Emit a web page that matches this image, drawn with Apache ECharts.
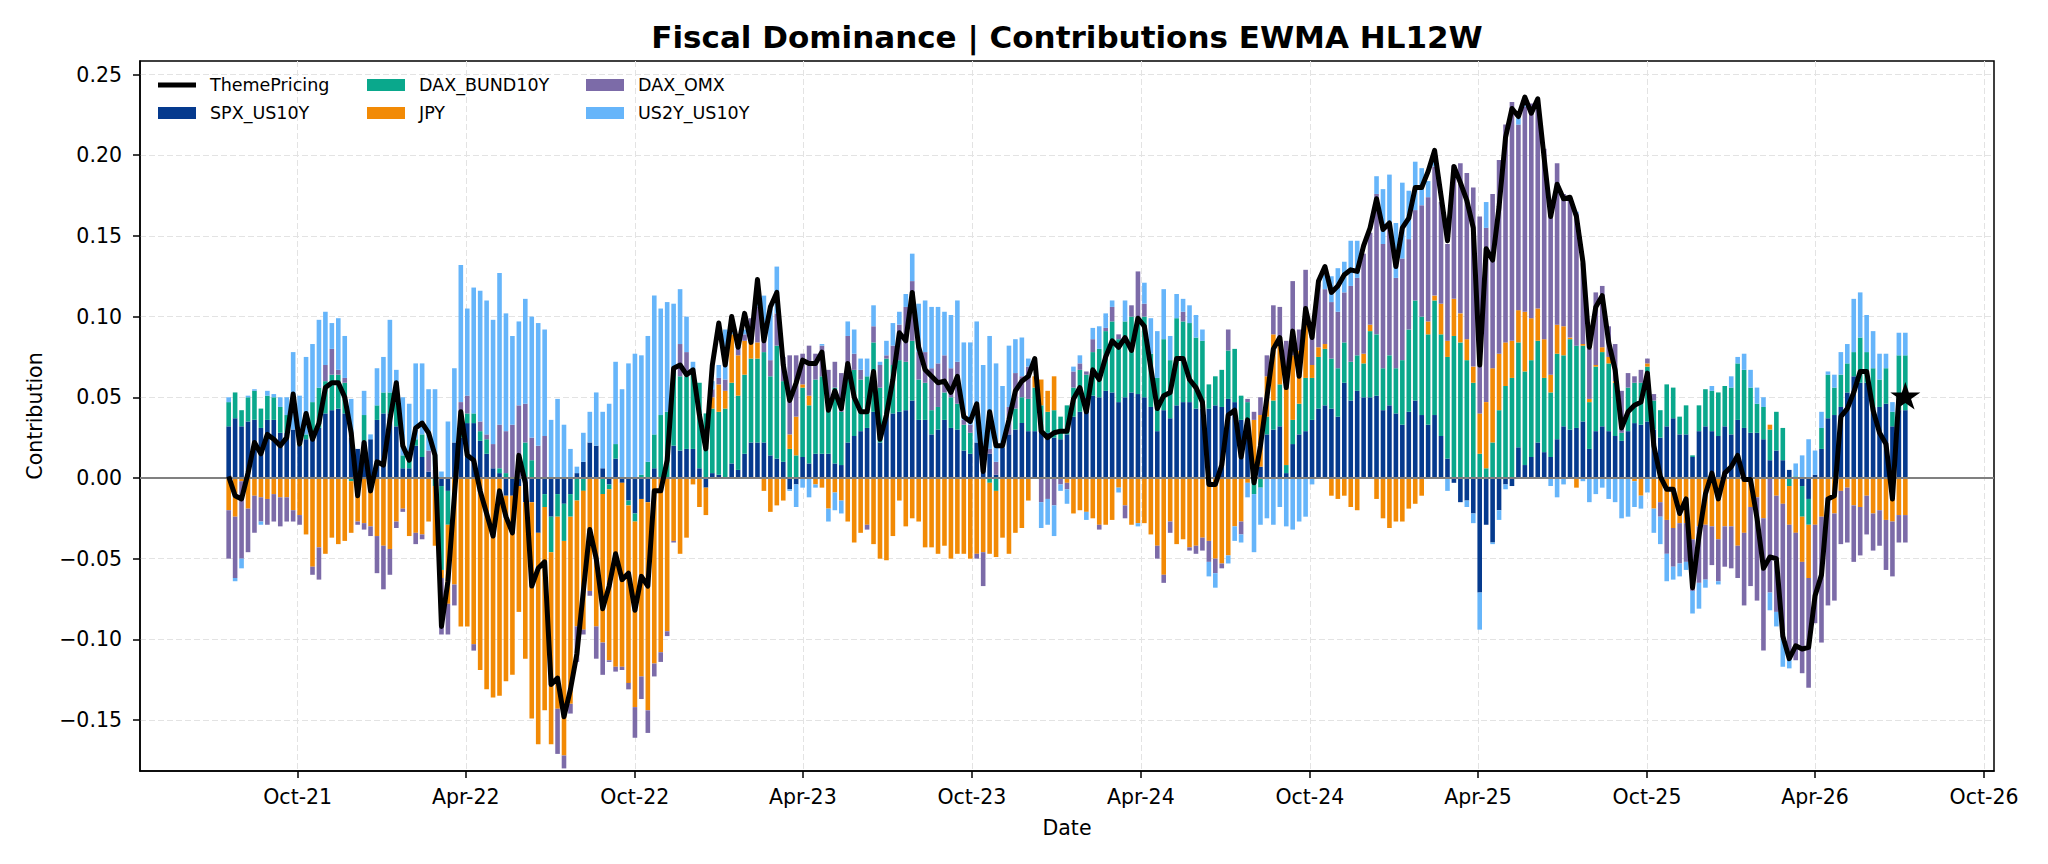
<!DOCTYPE html>
<html>
<head>
<meta charset="utf-8">
<title>Fiscal Dominance | Contributions EWMA HL12W</title>
<script src="https://cdn.jsdelivr.net/npm/echarts@6/dist/echarts.min.js"></script>
<style>
  html, body { margin: 0; padding: 0; background: #fff; }
  #chart { width: 2048px; height: 864px; }
</style>
</head>
<body>
<div id="chart"></div>
<script>
// weekly observations (Fridays), first one below
const firstWeek = '2021-07-16';

const themePricing = [
  .001,-.011,-.013,.003,.022,.015,.027,.024,.020,.025,.052,.021,.040,.024,.034,.056,.059,.059,.050,.028,
  -.011,.022,-.008,.010,.008,.036,.059,.020,.011,.031,.034,.028,.014,-.092,-.064,-.011,.041,.014,.011,-.008,
  -.022,-.036,-.008,-.024,-.034,.014,-.003,-.067,-.056,-.052,-.128,-.124,-.148,-.131,-.109,-.070,-.032,-.050,-.081,-.067,
  -.047,-.063,-.059,-.082,-.061,-.067,-.008,-.008,.011,.068,.070,.064,.067,.039,.018,.070,.096,.070,.100,.081,
  .102,.084,.123,.085,.106,.115,.070,.048,.059,.073,.071,.071,.078,.042,.054,.043,.071,.050,.041,.041,
  .066,.024,.039,.061,.090,.085,.115,.081,.067,.063,.059,.060,.053,.063,.038,.035,.046,.004,.041,.020,
  .020,.036,.054,.060,.063,.074,.029,.025,.028,.029,.029,.049,.056,.041,.067,.061,.075,.085,.081,.087,
  .079,.099,.094,.068,.043,.051,.053,.074,.074,.061,.056,.047,-.004,-.004,.008,.039,.042,.013,.036,-.003,
  .020,.050,.080,.087,.056,.091,.063,.105,.087,.122,.131,.115,.119,.126,.129,.128,.144,.155,.173,.154,
  .158,.131,.155,.161,.180,.180,.190,.203,.175,.147,.193,.183,.172,.155,.070,.142,.135,.168,.211,.229,
  .224,.236,.226,.235,.198,.162,.182,.173,.174,.162,.134,.081,.106,.113,.084,.067,.031,.041,.045,.047,
  .065,.020,.001,-.007,-.007,-.022,-.013,-.068,-.036,-.010,.003,-.013,.003,.007,.014,-.001,-.001,-.025,-.056,-.049,
  -.050,-.098,-.112,-.104,-.106,-.105,-.073,-.060,-.013,-.011,.038,.043,.053,.066,.066,.042,.028,.021,-.013,.051,.051
];

const spxUs10y = [
  .032,.037,.032,.035,.036,.031,.036,.036,.028,.028,.030,.020,.024,.024,.031,.040,.042,.043,.040,.025,
  .018,.023,.024,.036,.040,.040,.032,.006,.006,.020,.013,.004,0,-.005,-.008,.022,.025,.034,.034,.023,
  .015,.006,.003,-.011,-.011,-.005,-.015,-.015,-.034,-.010,-.024,-.010,-.016,-.010,.003,.010,.022,.020,.006,-.004,
  .012,-.003,-.014,-.022,-.013,-.015,.006,0,0,.020,.017,.018,.018,.006,-.006,.003,.002,0,.009,.005,
  .015,.022,.022,.022,.014,.012,.010,-.007,-.004,.013,.009,.015,.015,.015,.009,.008,.022,.026,.029,.031,
  .041,.022,.039,.040,.041,.042,.048,.036,.036,.027,.030,.036,.031,.030,.017,.015,.022,.014,.015,.002,
  .019,.027,.030,.034,.029,.029,.029,.028,.025,.024,.027,.038,.041,.050,.051,.050,.054,.053,.047,.050,
  .053,.052,.050,.044,.029,.042,.037,.045,.047,.047,.043,.043,.043,.045,.044,.049,.047,.036,.032,.005,
  .007,.027,.030,.032,.003,.021,.027,.029,.036,.043,.045,.043,.038,.059,.048,.054,.050,.050,.051,.042,
  .045,.040,.033,.041,.048,.039,.033,.039,.026,.012,-.003,-.015,-.014,-.022,-.071,-.029,-.040,-.020,-.004,-.005,
  .019,.008,.013,.022,.016,.013,.024,.032,.030,.031,.035,.018,.029,.032,.029,.026,.023,.029,.034,.033,
  .035,.030,.025,.032,.037,.027,.027,.013,.029,.032,.029,.026,.032,.027,.036,.031,.028,.028,.024,.011,
  .017,.011,.005,0,-.005,-.013,.002,.018,.037,.039,.044,.053,.063,.059,.059,.044,.044,.046,.032,.042,.042
];

const daxBund10y = [
  .015,.016,.010,.015,.018,.012,.015,.014,.016,.011,0,.006,.003,.023,.025,.020,.022,.021,.019,-.002,
  0,.016,0,.009,.013,.013,.015,.008,.006,.004,.014,0,-.005,-.052,-.021,0,.010,.006,.006,.006,
  .009,0,.003,.003,0,0,.022,.011,0,-.008,-.022,-.014,-.023,-.014,-.014,-.008,0,0,-.010,-.003,
  .009,0,-.003,-.005,.002,.010,.021,.039,.041,.047,.046,.045,.047,.053,.040,.040,.039,.043,.050,.046,
  .049,.052,.052,.056,.049,.070,.050,.018,.014,.043,.036,.046,.048,.027,.047,.033,.044,.041,.032,.032,
  .043,.034,.035,.030,.032,.030,.037,.025,.023,.015,.014,.017,.019,.016,.016,.013,0,0,-.003,-.008,
  0,0,.013,.016,.020,.027,.016,.013,.017,.014,.018,.018,.026,.014,.027,.030,.037,.044,.039,.047,
  .047,.048,.050,.033,.033,.044,.036,.054,.050,.049,.044,.042,.015,.018,.023,.030,.033,.015,.015,-.010,
  -.006,.011,.018,.026,.005,.015,.019,.033,.026,.032,.035,.031,.030,.025,.024,.022,.021,.041,.038,.026,
  .031,.028,.040,.051,.062,.061,.056,.071,.063,.063,.088,.084,.073,.059,.015,.006,.022,.042,.057,.062,
  .065,.058,.060,.063,.046,.040,.053,.044,.056,.051,.047,.029,.040,.046,.042,.033,.005,.027,.025,.026,
  .034,.018,.017,.026,.019,.011,.018,.001,.016,.023,.025,.027,.025,.029,.035,.036,.028,.018,.020,.019,
  .024,.020,-.005,.001,-.019,-.016,0,.013,.027,.017,.020,.018,.015,.028,.019,.024,.017,.022,.009,.034,.034
];

const jpy = [
  -.020,-.024,-.002,-.019,-.011,-.012,-.013,-.010,-.012,-.012,-.020,-.023,-.035,-.055,-.043,-.047,-.037,-.041,-.039,-.032,
  -.027,-.028,-.030,-.036,-.042,-.044,-.027,-.019,-.036,-.034,-.035,-.027,-.037,-.005,-.049,-.066,-.092,-.092,-.103,-.119,
  -.131,-.136,-.135,-.115,-.111,-.078,-.097,-.134,-.131,-.126,-.119,-.119,-.133,-.116,-.078,-.086,-.070,-.092,-.092,-.106,
  -.117,-.114,-.110,-.115,-.110,-.129,-.115,-.108,-.095,-.039,-.047,-.037,-.004,-.018,-.017,.007,.017,.011,.030,.025,
  .021,.010,.010,-.008,-.021,-.017,-.014,.009,.024,.002,.006,-.004,-.006,-.019,-.009,-.014,-.027,-.040,-.034,-.029,
  -.041,-.050,-.051,-.036,-.014,-.030,-.025,-.027,-.043,-.043,-.047,-.042,-.050,-.047,-.047,-.050,-.047,-.046,-.044,-.041,
  -.037,-.047,-.034,-.031,-.014,.007,.016,.013,.021,0,-.003,-.022,-.020,-.021,-.025,-.029,-.029,-.026,-.006,-.017,
  -.029,-.028,-.028,-.035,-.042,-.060,-.027,-.041,-.038,-.043,-.042,-.037,-.039,-.050,-.053,-.048,-.030,-.027,-.003,.031,
  .032,.025,.041,.029,.050,.040,.033,.033,.008,.006,.003,-.011,-.013,-.011,-.018,-.020,.006,.004,-.013,-.025,
  -.031,-.027,-.027,-.019,-.016,-.011,.008,.003,.019,.010,.023,.018,.013,.010,.025,.041,.046,.035,.027,.023,
  .020,.037,.026,.020,.024,.011,.018,.018,.001,-.006,.001,.002,.001,.003,.004,.001,0,0,-.002,-.011,
  .002,-.019,-.015,-.026,-.031,-.028,-.028,-.038,-.030,-.029,-.030,-.038,-.030,-.030,-.042,-.034,-.018,-.012,-.025,.003,
  -.011,-.016,-.024,-.034,-.028,-.033,-.029,-.024,-.012,-.022,-.008,-.006,-.017,-.018,-.011,-.022,-.020,-.026,-.027,-.023,-.023
];

const daxOmx = [
  -.030,-.038,-.048,-.027,-.023,-.015,-.016,-.017,-.018,-.015,-.007,-.006,0,-.005,-.020,.010,.016,.003,.003,.003,
  -.002,-.004,-.006,-.023,-.027,-.016,-.004,-.002,0,-.007,-.003,.013,.005,-.035,-.019,-.013,.012,.011,-.004,.006,
  .003,.015,.027,.026,.033,.045,.024,.014,.020,.026,0,-.028,-.008,-.006,-.022,-.003,-.003,-.020,-.020,-.001,
  -.003,-.002,-.004,-.019,-.014,-.014,-.008,-.006,-.003,-.001,.020,.015,0,0,0,.005,.004,.007,0,.007,
  .004,.015,.022,.009,.010,.020,.015,.049,.038,.019,.031,.016,.019,.025,.016,.024,.022,.010,.006,-.003,
  .010,.014,.002,.012,.022,.034,.037,.017,.019,.026,.027,.023,.018,.026,.003,.005,-.003,-.021,.003,.008,
  0,.017,.022,.013,.020,0,-.015,-.013,-.017,-.004,-.004,.010,.004,.002,.008,-.003,.002,.009,.003,-.008,
  .007,.028,.008,0,-.008,-.005,-.007,0,.006,-.002,-.005,-.008,-.013,-.009,-.003,.013,0,-.008,.002,.005,
  .011,.013,.018,.019,.027,.046,.013,.034,.019,.039,.034,.035,.035,.031,.047,.048,.062,.057,.087,.077,
  .082,.056,.063,.056,.056,.069,.077,.080,.063,.060,.083,.093,.103,.111,.122,.108,.108,.120,.135,.148,
  .115,.127,.133,.129,.118,.103,.100,.082,.085,.082,.050,.031,.045,.038,.019,.023,.026,.009,.004,.008,
  .003,.004,-.009,-.021,-.024,-.025,-.024,-.032,-.035,-.034,-.024,-.026,-.025,-.026,-.020,-.045,-.049,-.064,-.082,-.071,
  -.072,-.079,-.080,-.079,-.069,-.068,-.061,-.078,-.067,-.054,-.033,-.034,-.035,-.030,-.024,-.023,-.022,-.031,-.034,-.017,-.017
];

const us2yUs10y = [
  .003,-.002,-.006,.001,.001,-.002,.003,.002,.006,.011,.048,.025,.048,.036,.042,.033,.016,.032,.026,.021,
  0,.015,.003,.023,.022,.045,.020,.036,.034,.047,.044,.038,.050,.004,.035,.046,.085,.054,.078,.081,
  .083,.077,.094,.073,.055,.052,.065,.075,.076,.066,.036,.049,.033,.018,.004,.018,.019,.033,.035,.046,
  .051,.055,.071,.077,.074,.078,.086,.066,.068,.041,.034,.022,.007,0,0,.005,.008,.031,.003,0,
  .003,0,.010,.026,.034,.029,0,-.001,-.014,-.006,-.012,-.002,.001,-.008,-.011,-.008,.009,.015,.007,.011,
  .013,.002,.009,.014,.008,.008,.017,.030,.032,.038,.035,.027,.033,.038,.048,.051,.075,.056,.070,.061,
  .038,.038,.021,.024,.005,0,-.016,-.016,-.019,-.004,-.009,.003,.005,-.005,.007,.014,.009,.004,-.003,.013,
  0,-.002,.013,.022,.029,.031,.015,.015,.008,.011,.014,.007,-.009,-.009,0,-.005,-.009,-.005,-.009,-.036,
  -.023,-.025,-.029,-.018,-.030,-.032,-.027,-.024,-.004,0,.009,.016,.027,.019,.028,.023,0,0,.011,.034,
  .030,.034,.047,.030,.030,.023,.010,.010,0,-.008,0,0,-.004,-.006,-.023,.016,-.001,-.006,-.003,0,
  .004,.002,0,0,0,-.005,-.012,-.004,0,.001,-.002,-.015,-.010,-.006,-.013,-.015,-.025,-.024,-.016,-.008,
  -.009,-.015,-.017,-.017,-.008,-.008,-.005,-.014,-.016,-.005,.003,-.002,0,.007,.004,.010,.011,.010,.006,-.011,
  -.009,-.022,-.009,.008,.014,.024,.015,.010,.002,.008,.014,.012,.033,.028,.023,.023,.016,.009,.006,.014,.014
];

const xTickDates = ['2021-10-01','2022-04-01','2022-10-01','2023-04-01','2023-10-01','2024-04-01',
  '2024-10-01','2025-04-01','2025-10-01','2026-04-01','2026-10-01'];
const yTicks = [-0.15, -0.10, -0.05, 0, 0.05, 0.10, 0.15, 0.20, 0.25];

const MONTHS = ['Jan','Feb','Mar','Apr','May','Jun','Jul','Aug','Sep','Oct','Nov','Dec'];
const DAY = 86400000;
const FONT = 'DejaVu Sans';
const X_MIN = Date.UTC(2021, 3, 13, 6);
const X_MAX = Date.UTC(2026, 9, 11, 18);

const t0 = Date.parse(firstWeek);
const weeks = themePricing.map((_, i) => t0 + i * 7 * DAY);
const pairs = arr => arr.map((v, i) => [weeks[i], v]);

function fmtMonth(v) {
  const d = new Date(v);
  return MONTHS[d.getUTCMonth()] + '-' + String(d.getUTCFullYear()).slice(2);
}

// matplotlib style 5-point star
function starPath() {
  let d = '';
  for (let k = 0; k < 10; k++) {
    const r = k % 2 ? 19.1 : 50;
    const a = (-90 + k * 36) * Math.PI / 180;
    d += (k ? 'L' : 'M') + (50 + r * Math.cos(a)).toFixed(2) + ',' + (50 + r * Math.sin(a)).toFixed(2);
  }
  return 'path://' + d + 'Z';
}

const colors = {
  SPX_US10Y: '#053a8e',
  DAX_BUND10Y: '#0aa88c',
  JPY: '#f28a05',
  DAX_OMX: '#7c6ba8',
  US2Y_US10Y: '#66b5fa'
};

function barSeries(name, arr) {
  return {
    name: name,
    type: 'bar',
    stack: 'contrib',
    barWidth: 4.6,
    itemStyle: { color: colors[name] },
    data: pairs(arr)
  };
}

const legendText = { fontFamily: FONT, fontSize: 17.5, lineHeight: 18, color: '#000', padding: [0, 0, 0, 9] };
function legendBlock(left, items) {
  return {
    orient: 'vertical', left: left, top: 71,
    itemWidth: 38, itemHeight: 12, itemGap: 10,
    selectedMode: false,
    textStyle: legendText,
    data: items
  };
}

const tickX = xTickDates.map(s => Date.parse(s));
const gridLine = { show: true, lineStyle: { color: '#e3e3e3', width: 1, type: [6, 3] } };

const chart = echarts.init(document.getElementById('chart'), null, { renderer: 'svg' });
chart.setOption({
  animation: false,
  backgroundColor: '#fff',
  graphic: [{
    type: 'text', x: 1067, y: 37,
    style: {
      text: 'Fiscal Dominance | Contributions EWMA HL12W',
      font: 'bold 31px "DejaVu Sans"', fill: '#000',
      textAlign: 'center', textVerticalAlign: 'middle'
    }
  }],
  legend: [
    legendBlock(153, [{ name: 'ThemePricing', icon: 'path://M0,0H38V5H0Z' }, { name: 'SPX_US10Y', icon: 'rect' }]),
    legendBlock(362, [{ name: 'DAX_BUND10Y', icon: 'rect' }, { name: 'JPY', icon: 'rect' }]),
    legendBlock(581, [{ name: 'DAX_OMX', icon: 'rect' }, { name: 'US2Y_US10Y', icon: 'rect' }])
  ],
  grid: {
    left: 140, right: 54, top: 61, bottom: 93,
    show: true, borderColor: '#000', borderWidth: 1.5, backgroundColor: 'transparent'
  },
  xAxis: [
    // time axis that carries the data (stacking works here)
    { type: 'time', min: X_MIN, max: X_MAX, show: false },
    // visible axis with the half-year ticks
    {
      type: 'value', position: 'bottom',
      min: X_MIN, max: X_MAX,
      name: 'Date', nameLocation: 'middle', nameGap: 46,
      nameTextStyle: { fontFamily: FONT, fontSize: 20.5, color: '#000' },
      axisLine: { onZero: false, lineStyle: { color: '#000', width: 1.5 } },
      axisTick: { customValues: tickX, length: 7, lineStyle: { color: '#000', width: 1.5 } },
      axisLabel: {
        customValues: tickX, margin: 15,
        fontFamily: FONT, fontSize: 20.5, color: '#000',
        formatter: v => fmtMonth(v)
      },
      splitLine: gridLine
    }
  ],
  yAxis: {
    type: 'value',
    min: -0.1816, max: 0.2584,
    name: 'Contribution', nameLocation: 'middle', nameGap: 95,
    nameTextStyle: { fontFamily: FONT, fontSize: 20.5, color: '#000' },
    axisLine: { show: true, lineStyle: { color: '#000', width: 1.5 } },
    axisTick: { show: true, customValues: yTicks, length: 7, lineStyle: { color: '#000', width: 1.5 } },
    axisLabel: {
      customValues: yTicks, margin: 18,
      fontFamily: FONT, fontSize: 20.5, color: '#000',
      formatter: v => (v < 0 ? '\u2212' : '') + Math.abs(v).toFixed(2)
    },
    splitLine: gridLine
  },
  series: [
    barSeries('SPX_US10Y', spxUs10y),
    barSeries('DAX_BUND10Y', daxBund10y),
    barSeries('JPY', jpy),
    barSeries('DAX_OMX', daxOmx),
    Object.assign(barSeries('US2Y_US10Y', us2yUs10y), {
      markLine: {
        silent: true, symbol: 'none', label: { show: false },
        lineStyle: { color: '#808080', width: 1.8, type: 'solid' },
        data: [{ yAxis: 0 }]
      }
    }),
    {
      name: 'ThemePricing',
      type: 'line',
      z: 5,
      symbol: 'none',
      itemStyle: { color: '#000' },
      lineStyle: { color: '#000', width: 5, join: 'round' },
      data: pairs(themePricing)
    },
    {
      name: 'latest',
      type: 'scatter',
      z: 6,
      symbol: starPath(),
      symbolKeepAspect: true,
      symbolSize: [30, 29],
      itemStyle: { color: '#000', opacity: 1 },
      data: [[weeks[weeks.length - 1], themePricing[themePricing.length - 1]]]
    }
  ]
});
</script>
</body>
</html>
